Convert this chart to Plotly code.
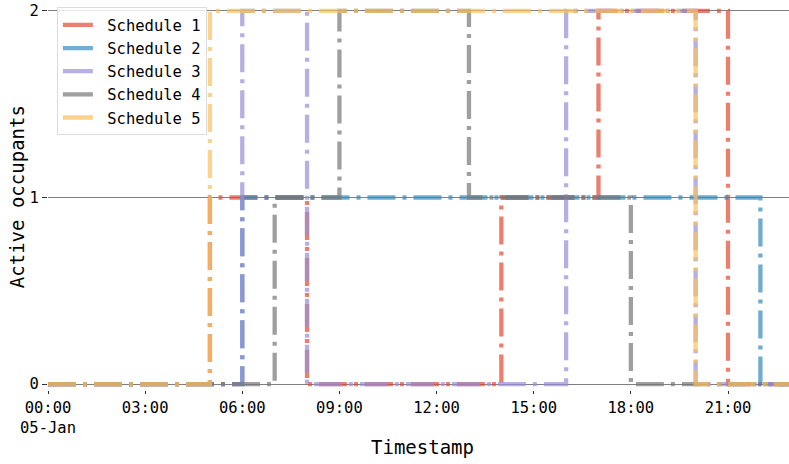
import plotly.graph_objects as go

# hourly timestamps on 05-Jan
hours = [f"2021-01-05 {h:02d}:00" for h in range(24)]
names = ["Schedule 1", "Schedule 2", "Schedule 3", "Schedule 4", "Schedule 5"]
s1 = [0, 0, 0, 0, 0, 1, 1, 1, 0, 0, 0, 0, 0, 0, 1, 1, 1, 2, 2, 2, 2, 0, 0, 0]
s2 = [0, 0, 0, 0, 0, 0, 1, 1, 1, 1, 1, 1, 1, 1, 1, 1, 1, 1, 1, 1, 1, 1, 0, 0]
s3 = [0, 0, 0, 0, 0, 0, 2, 2, 0, 0, 0, 0, 0, 0, 0, 0, 2, 2, 2, 2, 0, 0, 0, 0]
s4 = [0, 0, 0, 0, 0, 0, 0, 1, 1, 2, 2, 2, 2, 1, 1, 1, 1, 1, 0, 0, 0, 0, 0, 0]
s5 = [0, 0, 0, 0, 0, 2, 2, 2, 2, 2, 2, 2, 2, 2, 2, 2, 2, 2, 2, 2, 0, 0, 0, 0]
series = [s1, s2, s3, s4, s5]
colors = ["#E24A33", "#348ABD", "#988ED5", "#777777", "#FBC15E"]

tick_vals = [f"2021-01-05 {h:02d}:00" for h in range(0, 24, 3)]
tick_text = ["00:00<br>05-Jan", "03:00", "06:00", "09:00", "12:00", "15:00", "18:00", "21:00"]
x_title = "Timestamp"
y_title = "Active occupants"

FONT = "DejaVu Sans Mono"
fig = go.Figure()
for name, ys, c in zip(names, series, colors):
    fig.add_trace(go.Scatter(
        x=hours, y=ys, mode="lines", line_shape="hv", name=name,
        line=dict(color=c, width=4.3, dash="28px,7px,4px,7px"),
        opacity=0.7, showlegend=False, hoverinfo="skip"))
for name, c in zip(names, colors):
    fig.add_trace(go.Scatter(
        x=[None], y=[None], mode="lines", name="\u00a0" + name,
        line=dict(color=c, width=4.3), opacity=0.7, legendgroup=name))

fig.update_layout(
    width=789, height=464,
    margin=dict(l=48, r=0, t=5, b=74),
    paper_bgcolor="white", plot_bgcolor="white",
    font=dict(family=FONT, size=15.5, color="black"),
    showlegend=True,
    legend=dict(x=0.012, y=0.994, xanchor="left", yanchor="top",
                bgcolor="rgba(255,255,255,0.8)", bordercolor="#dddddd",
                borderwidth=1, font=dict(family=FONT, size=15.5),
                tracegroupgap=0, itemwidth=30),
    xaxis=dict(type="date", range=["2021-01-05 00:00", "2021-01-05 22:53"],
               tickvals=tick_vals, ticktext=tick_text, showgrid=False,
               zeroline=False, showline=False, ticks="outside", ticklen=3,
               tickcolor="#333333", automargin=False),
    yaxis=dict(range=[-0.032, 2.032], tickvals=[0, 1, 2], showgrid=True,
               gridcolor="#808080", gridwidth=1, zeroline=False, showline=False,
               ticks="outside", ticklen=5, tickcolor="#333333", automargin=False),
    annotations=[
        dict(text=x_title, xref="paper", yref="paper", x=0.505, y=-0.148,
             xanchor="center", yanchor="middle", showarrow=False,
             font=dict(family=FONT, size=19)),
        dict(text=y_title, xref="paper", yref="paper", x=-0.0418, y=0.501,
             xanchor="center", yanchor="middle", showarrow=False, textangle=-90,
             font=dict(family=FONT, size=19)),
    ],
)
fig.write_html("out.html", config={"displayModeBar": False},
               post_script="document.body.style.margin='0';")
